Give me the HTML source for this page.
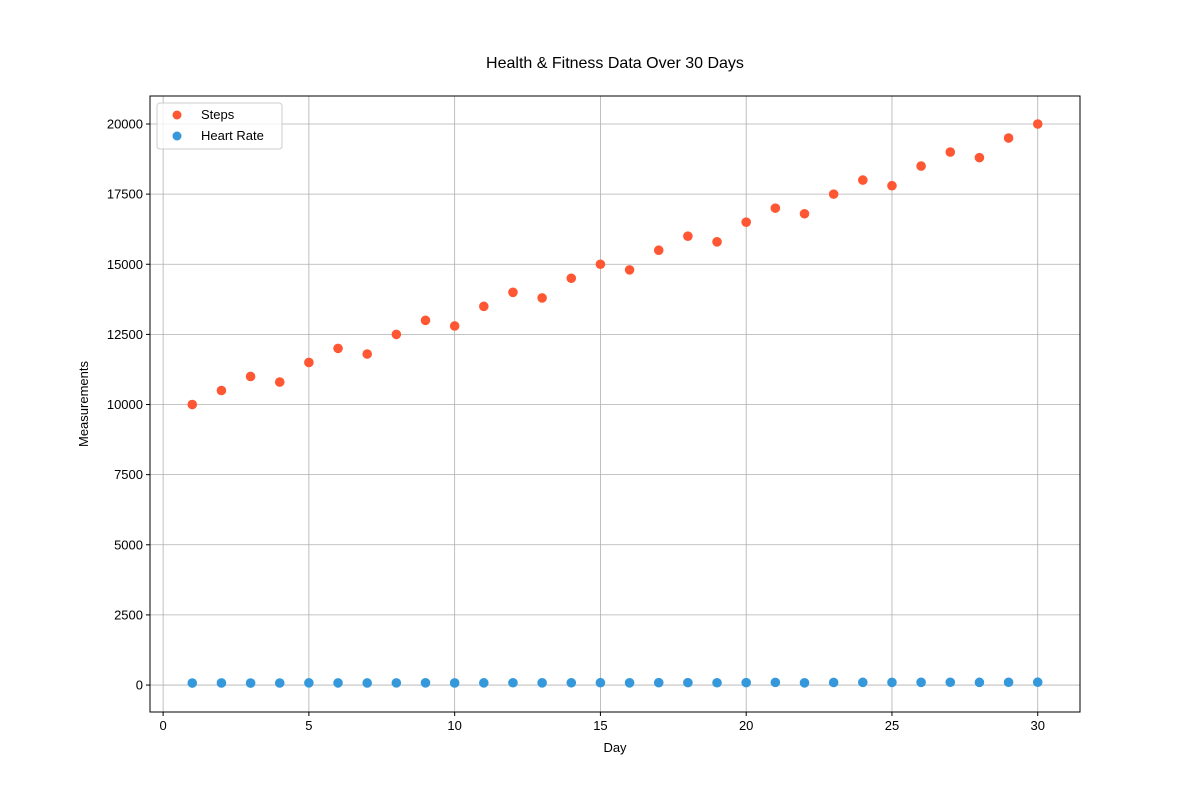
<!DOCTYPE html>
<html><head><meta charset="utf-8"><style>
body{margin:0;background:#fff}
svg text{font-family:"Liberation Sans","DejaVu Sans",sans-serif;fill:#000}
</style></head><body>
<svg id="chart" width="1200" height="800" xmlns="http://www.w3.org/2000/svg">
<rect width="1200" height="800" fill="#fff"/>
<g id="grid"></g>
<g id="marks"></g>
<rect x="150" y="96" width="930" height="616" fill="none" stroke="#000" stroke-width="1"/>
<g id="ticks"></g>
<text x="615" y="68" font-size="16" text-anchor="middle">Health &amp; Fitness Data Over 30 Days</text>
<text x="615" y="752" font-size="13" text-anchor="middle">Day</text>
<text x="88" y="404" font-size="13" text-anchor="middle" transform="rotate(-90 88 404)">Measurements</text>
<g>
<rect x="157" y="103" width="125" height="46" rx="3" fill="#fff" fill-opacity="0.8" stroke="#ccc"/>
<circle cx="177" cy="115" r="4.5" fill="#FF5733"/>
<text x="201" y="119" font-size="13">Steps</text>
<circle cx="177" cy="136" r="4.5" fill="#3498DB"/>
<text x="201" y="140" font-size="13">Heart Rate</text>
</g>
</svg>
<script>
const days=[1,2,3,4,5,6,7,8,9,10,11,12,13,14,15,16,17,18,19,20,21,22,23,24,25,26,27,28,29,30];
const steps=[10000,10500,11000,10800,11500,12000,11800,12500,13000,12800,13500,14000,13800,14500,15000,14800,15500,16000,15800,16500,17000,16800,17500,18000,17800,18500,19000,18800,19500,20000];
const heartRate=[72,75,70,73,78,76,74,77,80,75,78,82,79,81,83,80,84,86,82,85,95,80,92,96,94,97,98,96,99,100];
const xTicks=[0,5,10,15,20,25,30];
const yTicks=[0,2500,5000,7500,10000,12500,15000,17500,20000];
const NS="http://www.w3.org/2000/svg";
const X0=150,X1=1080,Y0=712,Y1=96;
const xmin=-0.45,xmax=31.45,ymin=-961,ymax=20998;
function sx(v){return X0+(v-xmin)/(xmax-xmin)*(X1-X0);}
function sy(v){return Y0-(v-ymin)/(ymax-ymin)*(Y0-Y1);}
function mk(t,a,p){const e=document.createElementNS(NS,t);for(const k in a)e.setAttribute(k,a[k]);p.appendChild(e);return e;}
const grid=document.getElementById('grid'),ticks=document.getElementById('ticks'),marks=document.getElementById('marks');
xTicks.forEach(t=>{const x=sx(t);
 const g=mk('line',{x1:x,x2:x,y1:Y1,y2:Y0,stroke:'#b0b0b0','stroke-width':0.8},grid);
 
 
 mk('line',{x1:x,x2:x,y1:Y0,y2:Y0+4,stroke:'#000'},ticks);
 const l=mk('text',{x:x,y:Y0+18,'font-size':13,'text-anchor':'middle'},ticks);l.textContent=t;
 
 });
yTicks.forEach(t=>{const y=sy(t);
 const g=mk('line',{x1:X0,x2:X1,y1:y,y2:y,stroke:'#b0b0b0','stroke-width':0.8},grid);
 
 
 mk('line',{x1:X0-4,x2:X0,y1:y,y2:y,stroke:'#000'},ticks);
 const l=mk('text',{x:X0-7,y:y+4.5,'font-size':13,'text-anchor':'end'},ticks);l.textContent=t;
 
 });
days.forEach((d,i)=>{
 const c=mk('circle',{cx:sx(d),cy:sy(steps[i]),r:4.8,fill:'#FF5733'},marks);
 
 
 const h=mk('circle',{cx:sx(d),cy:sy(heartRate[i]),r:4.8,fill:'#3498DB'},marks);
 
 
});
</script>
</body></html>
